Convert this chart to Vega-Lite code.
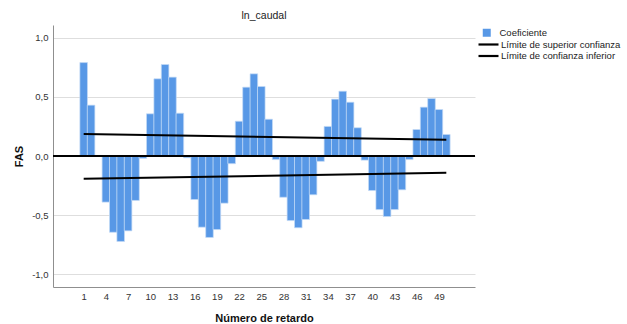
{
  "$schema": "https://vega.github.io/schema/vega-lite/v6.json",
  "width": 422,
  "height": 262,
  "autosize": "none",
  "padding": {"left": 53, "top": 25, "right": 152, "bottom": 37},
  "title": {
    "text": "ln_caudal",
    "anchor": "middle",
    "font": "Liberation Sans",
    "fontSize": 10.5,
    "fontWeight": "normal",
    "color": "#222222",
    "offset": 4
  },
  "datasets": {
    "fas": [
      {"lag": 1, "fas": 0.79, "serie": "Coeficiente"},
      {"lag": 2, "fas": 0.43, "serie": "Coeficiente"},
      {"lag": 3, "fas": 0.005, "serie": "Coeficiente"},
      {"lag": 4, "fas": -0.39, "serie": "Coeficiente"},
      {"lag": 5, "fas": -0.645, "serie": "Coeficiente"},
      {"lag": 6, "fas": -0.723, "serie": "Coeficiente"},
      {"lag": 7, "fas": -0.633, "serie": "Coeficiente"},
      {"lag": 8, "fas": -0.376, "serie": "Coeficiente"},
      {"lag": 9, "fas": -0.02, "serie": "Coeficiente"},
      {"lag": 10, "fas": 0.357, "serie": "Coeficiente"},
      {"lag": 11, "fas": 0.653, "serie": "Coeficiente"},
      {"lag": 12, "fas": 0.774, "serie": "Coeficiente"},
      {"lag": 13, "fas": 0.667, "serie": "Coeficiente"},
      {"lag": 14, "fas": 0.362, "serie": "Coeficiente"},
      {"lag": 15, "fas": -0.015, "serie": "Coeficiente"},
      {"lag": 16, "fas": -0.368, "serie": "Coeficiente"},
      {"lag": 17, "fas": -0.602, "serie": "Coeficiente"},
      {"lag": 18, "fas": -0.689, "serie": "Coeficiente"},
      {"lag": 19, "fas": -0.622, "serie": "Coeficiente"},
      {"lag": 20, "fas": -0.399, "serie": "Coeficiente"},
      {"lag": 21, "fas": -0.065, "serie": "Coeficiente"},
      {"lag": 22, "fas": 0.294, "serie": "Coeficiente"},
      {"lag": 23, "fas": 0.582, "serie": "Coeficiente"},
      {"lag": 24, "fas": 0.695, "serie": "Coeficiente"},
      {"lag": 25, "fas": 0.588, "serie": "Coeficiente"},
      {"lag": 26, "fas": 0.311, "serie": "Coeficiente"},
      {"lag": 27, "fas": -0.03, "serie": "Coeficiente"},
      {"lag": 28, "fas": -0.349, "serie": "Coeficiente"},
      {"lag": 29, "fas": -0.546, "serie": "Coeficiente"},
      {"lag": 30, "fas": -0.607, "serie": "Coeficiente"},
      {"lag": 31, "fas": -0.537, "serie": "Coeficiente"},
      {"lag": 32, "fas": -0.328, "serie": "Coeficiente"},
      {"lag": 33, "fas": -0.045, "serie": "Coeficiente"},
      {"lag": 34, "fas": 0.25, "serie": "Coeficiente"},
      {"lag": 35, "fas": 0.481, "serie": "Coeficiente"},
      {"lag": 36, "fas": 0.548, "serie": "Coeficiente"},
      {"lag": 37, "fas": 0.455, "serie": "Coeficiente"},
      {"lag": 38, "fas": 0.239, "serie": "Coeficiente"},
      {"lag": 39, "fas": -0.035, "serie": "Coeficiente"},
      {"lag": 40, "fas": -0.292, "serie": "Coeficiente"},
      {"lag": 41, "fas": -0.453, "serie": "Coeficiente"},
      {"lag": 42, "fas": -0.512, "serie": "Coeficiente"},
      {"lag": 43, "fas": -0.453, "serie": "Coeficiente"},
      {"lag": 44, "fas": -0.286, "serie": "Coeficiente"},
      {"lag": 45, "fas": -0.03, "serie": "Coeficiente"},
      {"lag": 46, "fas": 0.224, "serie": "Coeficiente"},
      {"lag": 47, "fas": 0.413, "serie": "Coeficiente"},
      {"lag": 48, "fas": 0.486, "serie": "Coeficiente"},
      {"lag": 49, "fas": 0.393, "serie": "Coeficiente"},
      {"lag": 50, "fas": 0.182, "serie": "Coeficiente"}
    ],
    "limites": [
      {"lag": 1, "fas": 0.186, "serie": "Límite de superior confianza"},
      {"lag": 50, "fas": 0.138, "serie": "Límite de superior confianza"},
      {"lag": 1, "fas": -0.193, "serie": "Límite de confianza inferior"},
      {"lag": 50, "fas": -0.141, "serie": "Límite de confianza inferior"}
    ]
  },
  "layer": [
    {
      "data": {"name": "fas"},
      "mark": {"type": "bar", "size": 7.58, "stroke": "#c4dbf7", "strokeWidth": 0.7, "fillOpacity": 1},
      "encoding": {
        "x": {
          "field": "lag",
          "type": "quantitative",
          "scale": {"domain": [-2.47, 53.2], "nice": false, "zero": false},
          "axis": {
            "title": "Número de retardo",
            "values": [1, 4, 7, 10, 13, 16, 19, 22, 25, 28, 31, 34, 37, 40, 43, 46, 49],
            "tickCount": 60,
            "grid": false,
            "ticks": false,
            "labelOverlap": false,
            "labelPadding": 4,
            "titlePadding": 12
          }
        },
        "y": {
          "field": "fas",
          "type": "quantitative",
          "scale": {"domain": [-1.108, 1.108], "nice": false, "zero": false},
          "axis": {
            "title": "FAS",
            "values": [-1, -0.5, 0, 0.5, 1],
            "tickCount": 10,
            "labelExpr": "replace(replace(format(datum.value, '.1f'), '.', ','), '\u2212', '-')",
            "ticks": false,
            "labelPadding": 5,
            "titlePadding": 7
          }
        },
        "fill": {
          "field": "serie",
          "type": "nominal",
          "scale": {"domain": ["Coeficiente"], "range": ["#5898e6"]},
          "legend": {
            "title": null,
            "orient": "none",
            "legendX": 429,
            "legendY": 3,
            "padding": 0,
            "symbolType": "square",
            "symbolSize": 64,
            "symbolStrokeWidth": 0,
            "labelOffset": 8,
            "labelFont": "Liberation Sans",
            "labelFontSize": 9.5,
            "labelColor": "#222222"
          }
        }
      }
    },
    {
      "data": {"name": "limites"},
      "mark": {"type": "line", "strokeWidth": 2, "strokeCap": "butt"},
      "encoding": {
        "x": {"field": "lag", "type": "quantitative"},
        "y": {"field": "fas", "type": "quantitative"},
        "stroke": {
          "field": "serie",
          "type": "nominal",
          "scale": {
            "domain": ["Límite de superior confianza", "Límite de confianza inferior"],
            "range": ["#000000", "#000000"]
          },
          "legend": {
            "title": null,
            "orient": "none",
            "legendX": 429,
            "legendY": 13,
            "padding": 0,
            "rowPadding": 0.5,
            "symbolType": "M-2,0H2",
            "symbolSize": 100,
            "symbolStrokeWidth": 2.2,
            "labelOffset": 6,
            "labelFont": "Liberation Sans",
            "labelFontSize": 9.5,
            "labelColor": "#222222"
          }
        }
      }
    },
    {
      "data": {"values": [{}]},
      "mark": {"type": "rule", "color": "#000000", "strokeWidth": 2.2},
      "encoding": {"y": {"datum": 0}}
    }
  ],
  "config": {
    "font": "Liberation Sans",
    "view": {"stroke": null},
    "axis": {
      "labelFont": "Liberation Sans",
      "labelFontSize": 9.5,
      "labelColor": "#333333",
      "titleFont": "Liberation Sans",
      "titleFontSize": 11,
      "titleFontWeight": "bold",
      "titleColor": "#111111",
      "domainColor": "#8f8f8f",
      "domainWidth": 1,
      "gridColor": "#dedede",
      "gridWidth": 1
    }
  }
}
